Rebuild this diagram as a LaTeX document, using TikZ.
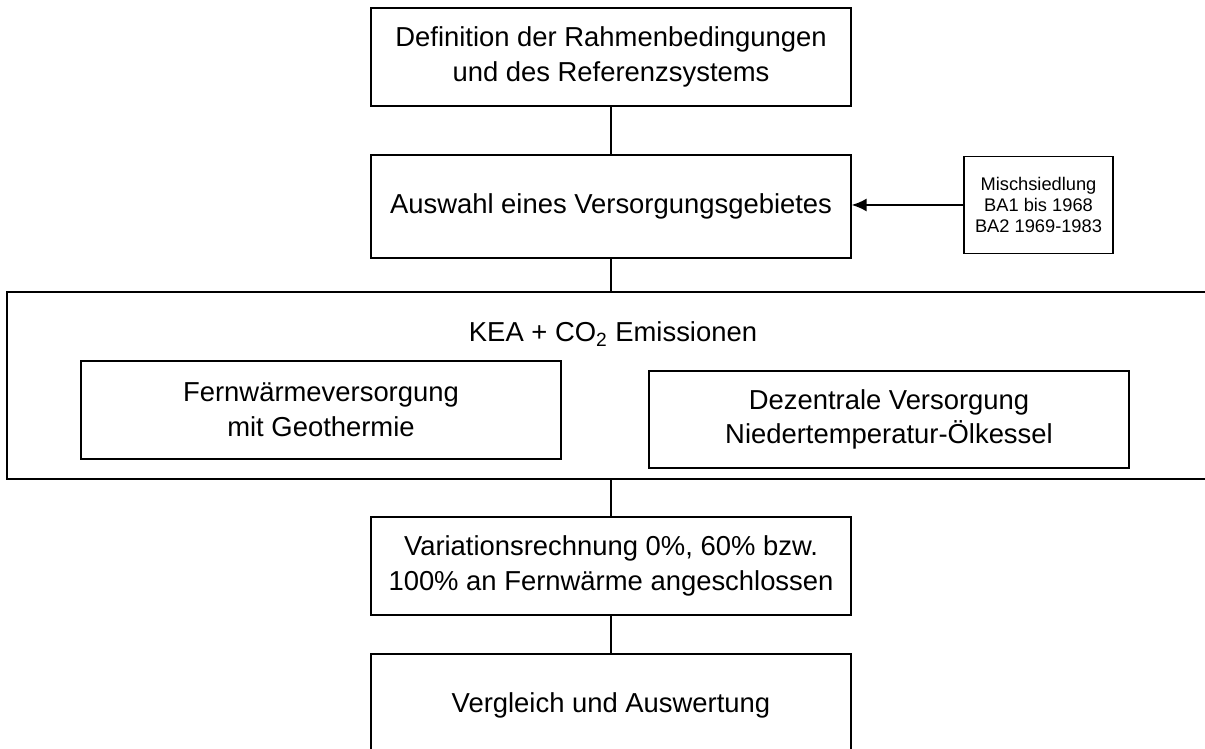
\documentclass[tikz,border=0pt]{standalone}
\usepackage{fontspec}
\setmainfont{Liberation Sans}
\usetikzlibrary{arrows.meta}

\begin{document}
\begin{tikzpicture}[font=\fontsize{15.6}{19.8}\selectfont,
  stepbox/.style={draw=black,line width=.6pt,align=center,minimum width=9.6cm,inner sep=0pt},
  smallbox/.style={draw=black,line width=.6pt,align=center,inner sep=0pt,font=\fontsize{10.4}{12.2}\selectfont}]
\useasboundingbox (0,0) rectangle (24.1,14.98);
\node[stepbox,minimum height=1.96cm] (def) at (12.22,13.84) {Definition der Rahmenbedingungen\\und des Referenzsystems};
\node[stepbox,minimum height=2.06cm] (aus) at (12.22,10.85) {Auswahl eines Versorgungsgebietes};
\node[smallbox,minimum width=2.98cm,minimum height=1.94cm] (misch) at (20.77,10.88) {Mischsiedlung\\BA1 bis 1968\\BA2 1969-1983};
\node[draw=black,line width=.6pt,minimum width=24.16cm,minimum height=3.74cm,inner sep=0pt] (emis) at (12.22,7.27) {};
\node (kea) at (12.26,8.3) {KEA + CO\textsubscript{2} Emissionen};
\node[stepbox,minimum height=1.96cm] (fern) at (6.42,6.78) {Fernwärmeversorgung\\mit Geothermie};
\node[stepbox,minimum height=1.94cm] (dez) at (17.78,6.59) {Dezentrale Versorgung\\Niedertemperatur-Ölkessel};
\node[stepbox,minimum height=1.96cm] (var) at (12.22,3.66) {Variationsrechnung 0\%, 60\% bzw.\\100\% an Fernwärme angeschlossen};
\node[stepbox,minimum height=2.04cm] (verg) at (12.22,0.88) {Vergleich und Auswertung};
\draw[line width=.6pt] (def) -- (aus);
\draw[line width=.6pt] (aus) -- (emis);
\draw[line width=.6pt] (emis) -- (var);
\draw[line width=.6pt] (var) -- (verg);
\draw[line width=1.2pt,-{Latex[length=3mm,width=2.6mm]}] (misch.west) -- (aus.east |- misch.west);
\end{tikzpicture}
\end{document}
